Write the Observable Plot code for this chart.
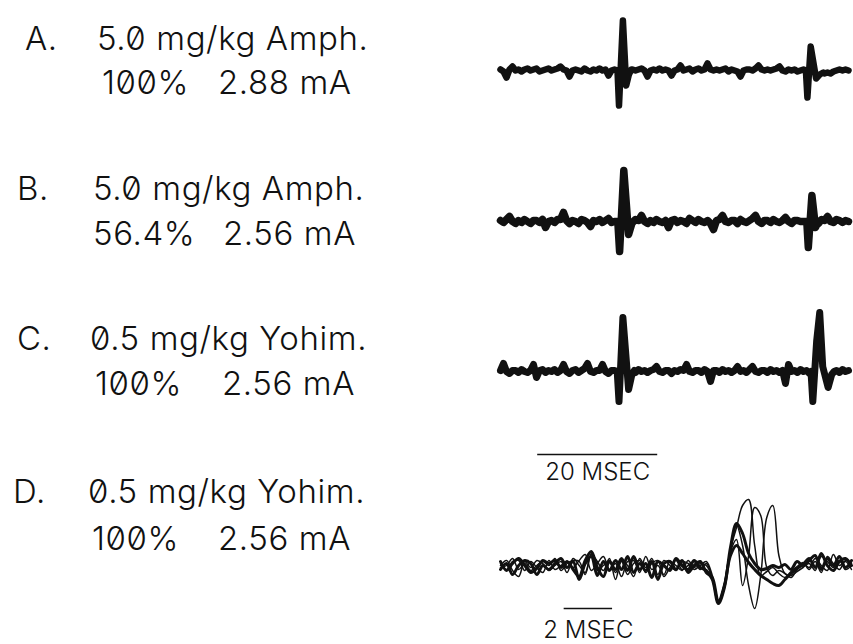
<!DOCTYPE html>
<html>
<head>
<meta charset="utf-8">
<script src="https://cdn.jsdelivr.net/npm/d3@7"></script>
<script src="https://cdn.jsdelivr.net/npm/@observablehq/plot@0.6"></script>
<style>
  html, body { margin: 0; padding: 0; background: #fff; overflow: hidden; }
  #page { position: relative; width: 853px; height: 644px; background: #fff; }
  .trace { position: absolute; }
  #labels { position: absolute; left: 0; top: 0; }
  #labels text { font-family: Inter, "DejaVu Sans", sans-serif; font-weight: 300; font-size: 33px; letter-spacing: 0.6px; font-feature-settings: "zero" 1; fill: #111; }
</style>
</head>
<body>
<div id="page"></div>
<script>
// ---------- text data ----------
const panelLetters = ["A.", "B.", "C.", "D."];
const drugDoses = ["5.0 mg/kg Amph.", "5.0 mg/kg Amph.", "0.5 mg/kg Yohim.", "0.5 mg/kg Yohim."];
const percents = ["100%", "56.4%", "100%", "100%"];
const currents = ["2.88 mA", "2.56 mA", "2.56 mA", "2.56 mA"];

// ---------- slow sweeps A–C (ms, one sample every 0.5 ms), amplitude in arbitrary units ----------
const slowStep = 0.5;
const noiseA = [
  1, -1, -7, 1, 4, 0, 1, -1, 1, 2,
  0, 1, 2, -1, 0, 1, 2, 0, 1, 2,
  4, 1, 0, -6, 0, 1, 0, -1, 2, 0,
  -1, 1, 0, 2, 0, 1, -5, 0, 1, 0,
  0, 0, 0, 0, 1, 0, 1, 2, 0, -6,
  0, 1, 0, 2, 0, 1, 0, -5, 0, 1,
  5, 0, 1, 2, -1, 1, 2, 0, 1, 7,
  1, 0, 1, 0, 1, 2, -1, 1, 0, -1,
  -6, 0, 1, 1, 0, 2, 5, 1, 0, 1,
  0, 1, 2, 4, 0, -1, 1, 0, 1, -1,
  0, 1, 0, 0, 0, 0, 0, 0, -3, -2,
  -3, -1, 0, 1, 0, 1, 0
];
const spikesA = [
  [[19.5, 0], [19.75, -35], [20.4, 50], [20.95, -15], [21.4, -4], [21.8, 1]],
  [[50.9, 0], [51.15, -27], [51.7, 24], [52.6, -8], [53.2, -4], [53.8, -2]]
];
const noiseB = [
  1, -1, 2, 5, 0, -2, 1, -1, 2, 0,
  -2, 1, 1, -1, 2, -6, 0, 1, -1, 2,
  2, 9, 1, -2, 1, 0, -2, 2, 1, -1,
  -5, 1, 0, 2, -1, 1, 3, -1, 0, 0,
  0, 0, 0, 0, -1, 2, 1, 6, 0, -2,
  1, -1, 2, 0, -1, 1, -6, 1, 2, -1,
  1, 0, -2, 3, 1, -1, 2, 0, -1, 1,
  -2, -8, 1, 2, 6, 0, -1, 1, 1, -2,
  2, 0, -1, 1, 3, 6, 0, -2, 1, 1,
  -1, 2, 0, -1, 1, 4, 0, -2, 1, 1,
  0, 0, 0, 0, 0, 0, -2, 2, 1, 5,
  0, -1, 2, 1, -1, 1, 0
];
const spikesB = [
  [[19.55, 0], [19.85, -30], [20.55, 51], [21.35, -13], [21.9, -2]],
  [[51.05, 0], [51.3, -26], [51.9, 26], [52.5, -6], [52.95, 0]]
];
const noiseC = [
  1, 8, 0, -2, 1, 1, -1, 2, 0, -1,
  1, 7, -6, 1, 2, -1, 1, 0, 2, -1,
  1, 7, 0, -2, 1, 2, -1, 1, 3, 8,
  0, -1, 1, 1, 7, 0, -2, 1, 1, 0,
  0, 0, 0, 0, 1, -1, 2, 0, 1, -1,
  1, 2, 5, 0, -1, 1, 1, -2, 1, 0,
  2, 1, 7, 0, -1, 1, 1, -1, 2, 0,
  -10, 1, 1, -1, 2, 0, 1, -1, 1, 5,
  0, 1, -1, 2, 5, 0, -1, 1, 1, -1,
  2, 0, 1, -1, 1, -12, 7, 0, 1, -1,
  2, 0, 1, -2, 0, 0, 0, 0, 0, 0,
  0, 0, 1, -1, 2, 0, 1
];
const spikesC = [
  [[19.45, 0], [19.75, -30], [20.4, 54], [21.35, -18], [21.9, -3], [22.3, 1]],
  [[51.75, 0], [52.05, -30], [52.7, 31], [53.2, 59], [53.7, 5], [54.6, -16], [55.2, -3], [55.6, 0]]
];

// ---------- fast sweeps for D (ms, one sample every 0.25 ms) ----------
const fastStep = 0.25;
const sweepD1 = [4, -5, 2, 7, 0, -7, -3, 5, 2, 5, -2, 4, -4, -11, 5, 14, -2, -11, 4, -4, 7, -5, 9, -4, 2, -12, 4, 0, -5, 7, 0, -4, 5, -2, -5,
  -14, -38, -22, 18, 42, 32, 12, 2, -4, -3, 0, -2, 1,
  -4, 4, 0, 5, 10, -4, 7, 0, 9, -2, 5];
const sweepD2 = [-4, 2, -9, 0, 5, 2, -9, 0, -4, 2, 7, -2, 4, -14, 2, 9, -10, 4, -5, 5, -4, 9, -7, 2, -5, 4, -14, 2, 4, -4, 5, -7, 0, 4, -7,
  -12, -36, -20, 10, 20, 12, 3, -4, -10, -14, -18, -20, -14, -8, -3, 1,
  7, -2, 12, 0, -5, 4, 7, 0];
const sweepD3 = [0, 5, -5, -11, 4, -2, 5, 2, -5, 0, 4, -7, 7, 0, -7, 11, 4, -5, 7, -14, 5, 0, -11, 7, -2, 7, -9, 5, 0, -5, 4, 2, -4, 0, 4,
  -10, -36, -20, 16, 38, 60, 66, 20, -10, -6, -2, -8, -12, -6, -1, 3,
  -4, 4, -7, 9, 2, -4, 5, 2];
const sweepD4 = [2, -4, 4, 5, -5, 4, -2, -7, 5, -4, 0, 4, -2, 5, 11, -5, 2, 9, -4, 2, -11, 4, 5, -7, 9, -4, 0, -9, 4, 0, -5, 5, -2, 2, 0,
  -12, -37, -18, 14, 26, -20, 10, 58, 50, -2, -10, -5, -8, -12, -4, 2,
  -2, 7, 0, -5, 11, 0, 4, -4];
const sweepD5 = [-2, 0, 7, -4, 2, -5, 0, 4, 0, 7, -5, 2, 5, 4, -9, 12, -5, 0, 5, -7, 4, -9, 2, 5, -7, 2, 5, -11, -2, 5, -4, 0, 4, -4, 2,
  -13, -37, -19, 15, 40, 20, -20, -43, -10, 48, 60, 10, -8, -10, -6, -2,
  2, -5, 9, 4, -2, 5, -4, 0];

// scale bars (ms)
const bar20 = { start: 6.2, length: 20, label: "20 MSEC" };
const bar2 = { start: 2.63, length: 2, label: "2 MSEC" };

// ---------- helpers ----------
function buildSlow(noise, spikes) {
  const base = noise.map((v, i) => ({ t: i * slowStep, v }))
    .filter(p => !spikes.some(s => p.t >= s[0][0] && p.t <= s[s.length - 1][0]));
  const sp = spikes.flat().map(([t, v]) => ({ t, v }));
  return base.concat(sp).sort((a, b) => a.t - b.t);
}
function buildFast(arr) { return arr.map((v, i) => ({ t: i * fastStep, v })); }

const page = document.getElementById("page");
function place(svg, left, top) {
  const div = document.createElement("div");
  div.className = "trace";
  div.style.left = left + "px";
  div.style.top = top + "px";
  div.appendChild(svg);
  page.appendChild(div);
}
const commonStyle = { background: "transparent", overflow: "visible", fontFamily: "Inter, 'DejaVu Sans', sans-serif", fontSize: "24px" };

function slowPlot(data, yDomain, sw, extra = []) {
  const h = yDomain[1] - yDomain[0];
  return Plot.plot({
    width: 356, height: h,
    marginLeft: 3, marginRight: 2, marginTop: 0, marginBottom: 0,
    x: { domain: [0, 58.5], axis: null },
    y: { domain: yDomain, axis: null },
    style: commonStyle,
    marks: [
      Plot.line(data, { x: "t", y: "v", stroke: "#111", strokeWidth: sw, strokeLinejoin: "round", strokeLinecap: "round" }),
      ...extra
    ]
  });
}

// A, B
place(slowPlot(buildSlow(noiseA, spikesA), [-50, 60], 6.5), 497, 10);
place(slowPlot(buildSlow(noiseB, spikesB), [-50, 60], 7.5), 497, 161);
// C with 20 ms bar
place(slowPlot(buildSlow(noiseC, spikesC), [-118, 62], 7, [
  Plot.ruleY([bar20], { x1: d => d.start, x2: d => d.start + d.length, y: () => -83, stroke: "#111", strokeWidth: 1.6 }),
  Plot.text([bar20], { x: d => d.start + d.length / 2, y: () => -101, text: "label", fill: "#111", fontWeight: 300 })
]), 497, 309);

// D fast sweeps with 2 ms bar
const dSweeps = [sweepD1, sweepD2, sweepD3, sweepD4, sweepD5].map(buildFast);
const dWidths = [3, 3, 1.5, 1.5, 1.5];
place(Plot.plot({
  width: 356, height: 158,
  marginLeft: 3, marginRight: 2, marginTop: 0, marginBottom: 0,
  x: { domain: [0, 14.5], axis: null },
  y: { domain: [-78, 80], axis: null },
  style: commonStyle,
  marks: [
    ...dSweeps.map((s, i) => Plot.line(s, { x: "t", y: "v", stroke: "#111", strokeWidth: dWidths[i], curve: "catmull-rom", strokeLinejoin: "round" })),
    Plot.ruleY([bar2], { x1: d => d.start, x2: d => d.start + d.length, y: () => -43, stroke: "#111", strokeWidth: 1.6 }),
    Plot.text([bar2], { x: d => d.start + d.length / 2, y: () => -65, text: "label", fill: "#111", fontWeight: 300 })
  ]
}), 497, 485);

// ---------- left-hand labels ----------
const letterX = [25, 17, 17, 13];
const doseX = [97, 93, 90, 88];
const pctX = [102, 93, 95, 92];
const curX = [218, 223, 222, 218];
const line1Y = [50, 200, 350, 503];
const line2Y = [94, 245, 395, 550];

const svg = d3.select("#page").append("svg").attr("id", "labels").attr("width", 470).attr("height", 644);
panelLetters.forEach((l, i) => {
  svg.append("text").attr("x", letterX[i]).attr("y", line1Y[i]).text(l);
  svg.append("text").attr("x", doseX[i]).attr("y", line1Y[i]).text(drugDoses[i]);
  svg.append("text").attr("x", pctX[i]).attr("y", line2Y[i]).text(percents[i]);
  svg.append("text").attr("x", curX[i]).attr("y", line2Y[i]).text(currents[i]);
});
</script>
</body>
</html>
